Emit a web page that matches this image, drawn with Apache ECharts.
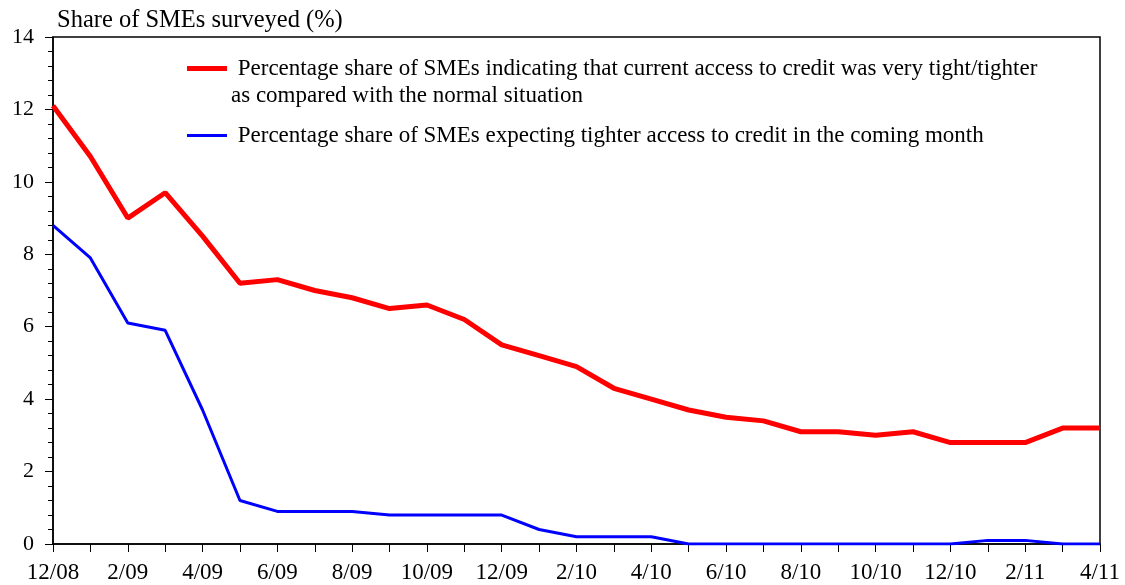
<!DOCTYPE html>
<html>
<head>
<meta charset="utf-8">
<script src="https://cdn.jsdelivr.net/npm/echarts@6/dist/echarts.min.js"></script>
<style>
  html, body { margin: 0; padding: 0; background: #fff; }
  #chart { width: 1125px; height: 585px; }
</style>
</head>
<body>
<div id="chart"></div>
<script>
var months = ['12/08', '1/09', '2/09', '3/09', '4/09', '5/09', '6/09', '7/09', '8/09', '9/09',
    '10/09', '11/09', '12/09', '1/10', '2/10', '3/10', '4/10', '5/10', '6/10', '7/10',
    '8/10', '9/10', '10/10', '11/10', '12/10', '1/11', '2/11', '3/11', '4/11'];

// very tight / tighter access now
var tightNow = [12.1, 10.7, 9.0, 9.7, 8.5, 7.2, 7.3, 7.0, 6.8, 6.5,
    6.6, 6.2, 5.5, 5.2, 4.9, 4.3, 4.0, 3.7, 3.5, 3.4,
    3.1, 3.1, 3.0, 3.1, 2.8, 2.8, 2.8, 3.2, 3.2];

// expecting tighter access next month
var tighterNext = [8.8, 7.9, 6.1, 5.9, 3.7, 1.2, 0.9, 0.9, 0.9, 0.8,
    0.8, 0.8, 0.8, 0.4, 0.2, 0.2, 0.2, 0.0, 0.0, 0.0,
    0.0, 0.0, 0.0, 0.0, 0.0, 0.1, 0.1, 0.0, 0.0];

var nameRed = ' Percentage share of SMEs indicating that current access to credit was very tight/tighter';
var nameRed2 = 'as compared with the normal situation';
var nameBlue = ' Percentage share of SMEs expecting tighter access to credit in the coming month';

var font = '"Liberation Serif", "Times New Roman", serif';

var chart = echarts.init(document.getElementById('chart'));

chart.setOption({
    animation: false,
    textStyle: { fontFamily: font, color: '#000' },
    title: {
        text: 'Share of SMEs surveyed (%)',
        left: 52,
        top: 3,
        textStyle: { fontFamily: font, fontSize: 24.5, fontWeight: 'normal', color: '#000' }
    },
    legend: [{
        data: [nameRed],
        left: 182,
        top: 52,
        icon: 'rect',
        itemWidth: 40,
        itemHeight: 5,
        selectedMode: false,
        textStyle: { fontFamily: font, fontSize: 23, color: '#000' }
    }, {
        data: [nameBlue],
        left: 182,
        top: 119,
        icon: 'rect',
        itemWidth: 40,
        itemHeight: 3,
        selectedMode: false,
        textStyle: { fontFamily: font, fontSize: 23, color: '#000' }
    }],
    graphic: [{
        type: 'text',
        left: 231,
        top: 84,
        style: { text: nameRed2, font: '23px ' + font, fill: '#000' }
    }],
    grid: {
        left: 53,
        right: 25,
        top: 37,
        bottom: 41,
        show: true,
        borderColor: '#000',
        borderWidth: 1.5
    },
    xAxis: {
        type: 'category',
        data: months,
        boundaryGap: false,
        axisLine: { lineStyle: { color: '#000', width: 1.5 } },
        axisTick: { interval: 0, length: 8, lineStyle: { color: '#000' } },
        axisLabel: { interval: 1, margin: 17, fontSize: 23, color: '#000', fontFamily: font },
        splitLine: { show: false }
    },
    yAxis: {
        type: 'value',
        min: 0,
        max: 14,
        interval: 2,
        axisLine: { show: true, lineStyle: { color: '#000', width: 1.5 } },
        axisTick: { show: true, length: 8, lineStyle: { color: '#000' } },
        minorTick: { show: true, splitNumber: 5, length: 5, lineStyle: { color: '#000' } },
        axisLabel: { margin: 19, fontSize: 22, color: '#000', fontFamily: font },
        splitLine: { show: false }
    },
    series: [{
        name: nameBlue,
        type: 'line',
        data: tighterNext,
        symbol: 'none',
        itemStyle: { color: '#0000ff' },
        lineStyle: { color: '#0000ff', width: 3 }
    }, {
        name: nameRed,
        type: 'line',
        data: tightNow,
        symbol: 'none',
        itemStyle: { color: '#ff0000' },
        lineStyle: { color: '#ff0000', width: 5 }
    }]
});
</script>
</body>
</html>
